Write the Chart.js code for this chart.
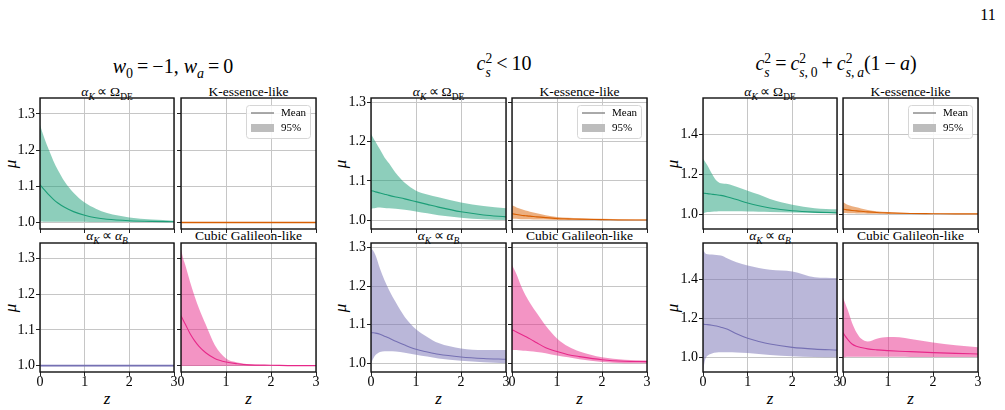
<!DOCTYPE html>
<html>
<head>
<meta charset="utf-8">
<script src="https://cdn.jsdelivr.net/npm/chart.js@4.4.1/dist/chart.umd.min.js"></script>
<style>
body { margin: 0; width: 1005px; height: 410px; background: #fff; position: relative; overflow: hidden; font-family: "Liberation Serif", serif; color: #000; }
canvas { position: absolute; }
.t { position: absolute; transform: translate(-50%, -50%); white-space: nowrap; line-height: 1; }
.gt { font-size: 20px; }
.pt { font-size: 13.5px; }
.ax { font-size: 17px; font-style: italic; }
.rot { transform: translate(-50%, -50%) rotate(-90deg); }
sub, sup { font-size: 0.7em; line-height: 0; }
.ss { display: inline-block; vertical-align: -0.5em; font-size: 0.68em; line-height: 1.05; text-align: left; }
.ss span { display: block; }
</style>
</head>
<body>
<div class="t" style="left:988px;top:15px;font-size:16px">11</div>

<div class="t gt" style="left:173px;top:66px"><i>w</i><sub>0</sub>&#8201;=&#8201;&minus;1, <i>w<sub>a</sub></i>&#8201;=&#8201;0</div>
<div class="t gt" style="left:504px;top:66px"><i>c</i><span class="ss"><span>2</span><span><i>s</i></span></span>&#8201;&lt;&#8201;10</div>
<div class="t gt" style="left:836px;top:66px"><i>c</i><span class="ss"><span>2</span><span><i>s</i></span></span>&#8201;=&#8201;<i>c</i><span class="ss"><span>2</span><span><i>s</i>,&#8201;0</span></span>&#8201;+&#8201;<i>c</i><span class="ss"><span>2</span><span><i>s</i>,&#8201;<i>a</i></span></span>(1&#8201;&minus;&#8201;<i>a</i>)</div>

<div id="labels"></div>

<script>
// redshift grid and ticks
const Z = [0, 0.05, 0.1, 0.2, 0.3, 0.4, 0.55, 0.75, 1, 1.25, 1.5, 2, 2.5, 3];
const X_TICKS = [0, 1, 2, 3];
const Y_TICKS_SMALL = [1.0, 1.1, 1.2, 1.3];
const Y_TICKS_WIDE = [1.0, 1.2, 1.4];

// w0 = -1, wa = 0
const lcdmOdeHi = [1.27, 1.25, 1.232, 1.2, 1.17, 1.145, 1.113, 1.082, 1.055, 1.038, 1.026, 1.014, 1.008, 1.005];
const lcdmOdeMean = [1.105, 1.097, 1.09, 1.076, 1.064, 1.054, 1.042, 1.03, 1.02, 1.013, 1.009, 1.005, 1.003, 1.002];
const lcdmOdeLo = [1.003, 1.003, 1.002, 1.002, 1.002, 1.002, 1.002, 1.002, 1.002, 1.001, 1.001, 1.001, 1.001, 1.001];
const lcdmKessHi = [1.003, 1.003, 1.003, 1.003, 1.003, 1.003, 1.003, 1.003, 1.003, 1.003, 1.003, 1.003, 1.003, 1.003];
const lcdmKessMean = [1, 1, 1, 1, 1, 1, 1, 1, 1, 1, 1, 1, 1, 1];
const lcdmKessLo = [0.997, 0.997, 0.997, 0.997, 0.997, 0.997, 0.997, 0.997, 0.997, 0.997, 0.997, 0.997, 0.997, 0.997];
const lcdmAbHi = [1.003, 1.003, 1.003, 1.003, 1.003, 1.003, 1.003, 1.003, 1.003, 1.003, 1.003, 1.003, 1.003, 1.003];
const lcdmAbMean = [1, 1, 1, 1, 1, 1, 1, 1, 1, 1, 1, 1, 1, 1];
const lcdmAbLo = [0.997, 0.997, 0.997, 0.997, 0.997, 0.997, 0.997, 0.997, 0.997, 0.997, 0.997, 0.997, 0.997, 0.997];
const lcdmCubicHi = [1.325, 1.3, 1.28, 1.235, 1.195, 1.16, 1.115, 1.058, 1.02, 1.009, 1.004, 1.001, 1.0, 1.0];
const lcdmCubicMean = [1.14, 1.127, 1.115, 1.09, 1.07, 1.054, 1.036, 1.02, 1.01, 1.005, 1.002, 1.001, 1.0, 1.0];
const lcdmCubicLo = [0.999, 0.999, 0.999, 0.999, 0.999, 0.999, 0.999, 0.999, 0.999, 0.999, 0.999, 0.999, 0.999, 0.999];

// c_s^2 < 10
const cs10OdeHi = [1.22, 1.21, 1.2, 1.18, 1.16, 1.145, 1.12, 1.095, 1.075, 1.065, 1.058, 1.045, 1.036, 1.03];
const cs10OdeMean = [1.075, 1.074, 1.072, 1.069, 1.066, 1.063, 1.059, 1.054, 1.047, 1.04, 1.033, 1.021, 1.013, 1.008];
const cs10OdeLo = [1.028, 1.03, 1.031, 1.032, 1.031, 1.03, 1.029, 1.026, 1.022, 1.017, 1.012, 1.006, 1.002, 1.0];
const cs10KessHi = [1.037, 1.035, 1.032, 1.028, 1.024, 1.021, 1.017, 1.012, 1.008, 1.006, 1.005, 1.003, 1.002, 1.001];
const cs10KessMean = [1.016, 1.015, 1.014, 1.012, 1.011, 1.01, 1.008, 1.006, 1.004, 1.003, 1.002, 1.001, 1.0, 1.0];
const cs10KessLo = [1.003, 1.003, 1.003, 1.002, 1.002, 1.002, 1.001, 1.001, 1.0, 1.0, 1.0, 1.0, 1.0, 1.0];
const cs10AbHi = [1.298, 1.292, 1.28, 1.245, 1.215, 1.19, 1.158, 1.12, 1.088, 1.068, 1.052, 1.038, 1.034, 1.034];
const cs10AbMean = [1.079, 1.079, 1.078, 1.075, 1.07, 1.065, 1.057, 1.047, 1.036, 1.029, 1.023, 1.016, 1.012, 1.01];
const cs10AbLo = [1.0, 1.012, 1.021, 1.029, 1.031, 1.031, 1.03, 1.027, 1.022, 1.017, 1.012, 1.006, 1.002, 1.0];
const cs10CubicHi = [1.255, 1.243, 1.231, 1.201, 1.176, 1.156, 1.13, 1.097, 1.064, 1.043, 1.03, 1.015, 1.009, 1.007];
const cs10CubicMean = [1.087, 1.084, 1.081, 1.075, 1.069, 1.063, 1.053, 1.04, 1.03, 1.022, 1.017, 1.009, 1.005, 1.004];
const cs10CubicLo = [1.034, 1.034, 1.034, 1.033, 1.032, 1.031, 1.029, 1.026, 1.02, 1.015, 1.01, 1.003, 1.0, 1.0];

// c_s^2 = c_s0^2 + c_sa^2 (1 - a)
const csaOdeHi = [1.278, 1.262, 1.245, 1.203, 1.169, 1.155, 1.152, 1.138, 1.118, 1.098, 1.076, 1.047, 1.03, 1.024];
const csaOdeMean = [1.105, 1.104, 1.103, 1.1, 1.097, 1.094, 1.086, 1.073, 1.056, 1.042, 1.031, 1.017, 1.01, 1.007];
const csaOdeLo = [1.003, 1.008, 1.01, 1.012, 1.013, 1.014, 1.014, 1.014, 1.013, 1.012, 1.011, 1.008, 1.005, 1.002];
const csaKessHi = [1.059, 1.053, 1.047, 1.04, 1.034, 1.028, 1.021, 1.014, 1.01, 1.008, 1.006, 1.003, 1.002, 1.002];
const csaKessMean = [1.025, 1.023, 1.021, 1.018, 1.016, 1.014, 1.011, 1.008, 1.006, 1.004, 1.003, 1.002, 1.001, 1.001];
const csaKessLo = [1.005, 1.005, 1.004, 1.004, 1.003, 1.003, 1.002, 1.002, 1.001, 1.001, 1.0, 1.0, 1.0, 1.0];
const csaAbHi = [1.549, 1.532, 1.527, 1.525, 1.523, 1.52, 1.505, 1.486, 1.469, 1.456, 1.447, 1.439, 1.409, 1.405];
const csaAbMean = [1.169, 1.168, 1.167, 1.164, 1.16, 1.154, 1.143, 1.12, 1.097, 1.081, 1.068, 1.051, 1.042, 1.037];
const csaAbLo = [0.932, 0.99, 1.008, 1.02, 1.025, 1.026, 1.026, 1.025, 1.022, 1.017, 1.012, 1.005, 1.001, 1.0];
const csaCubicHi = [1.304, 1.275, 1.245, 1.177, 1.127, 1.096, 1.081, 1.095, 1.104, 1.102, 1.093, 1.076, 1.062, 1.051];
const csaCubicMean = [1.127, 1.108, 1.093, 1.068, 1.056, 1.05, 1.043, 1.038, 1.034, 1.031, 1.029, 1.024, 1.02, 1.017];
const csaCubicLo = [1.0, 1.002, 1.003, 1.003, 1.003, 1.003, 1.003, 1.003, 1.003, 1.003, 1.002, 1.002, 1.002, 1.002];

const GREEN = [27, 158, 119], ORANGE = [217, 95, 2], PURPLE = [117, 112, 179], PINK = [231, 41, 138];

const TITLE_ODE = '<i>&alpha;<sub>K</sub></i>&#8201;&prop;&#8201;&Omega;<sub>DE</sub>';
const TITLE_AB = '<i>&alpha;<sub>K</sub></i>&#8201;&prop;&#8201;<i>&alpha;<sub>B</sub></i>';
const TITLE_KESS = 'K-essence-like';
const TITLE_CUBIC = 'Cubic Galileon-like';

const cols = [{left: 40, w: 134}, {left: 181, w: 135}, {left: 371, w: 135}, {left: 512, w: 135}, {left: 703, w: 134}, {left: 843, w: 135}];
const rows = [{top: 98, h: 131}, {top: 243, h: 129}];
const yRanges = [[0.982, 1.344], [0.977, 1.312], [0.925, 1.584]];
const yTicks = [Y_TICKS_SMALL, Y_TICKS_SMALL, Y_TICKS_WIDE];

const panels = [
    {g: 0, c: 0, r: 0, hi: lcdmOdeHi, mean: lcdmOdeMean, lo: lcdmOdeLo, col: GREEN, title: TITLE_ODE},
    {g: 0, c: 1, r: 0, hi: lcdmKessHi, mean: lcdmKessMean, lo: lcdmKessLo, col: ORANGE, title: TITLE_KESS, legend: true},
    {g: 0, c: 0, r: 1, hi: lcdmAbHi, mean: lcdmAbMean, lo: lcdmAbLo, col: PURPLE, title: TITLE_AB},
    {g: 0, c: 1, r: 1, hi: lcdmCubicHi, mean: lcdmCubicMean, lo: lcdmCubicLo, col: PINK, title: TITLE_CUBIC},
    {g: 1, c: 0, r: 0, hi: cs10OdeHi, mean: cs10OdeMean, lo: cs10OdeLo, col: GREEN, title: TITLE_ODE},
    {g: 1, c: 1, r: 0, hi: cs10KessHi, mean: cs10KessMean, lo: cs10KessLo, col: ORANGE, title: TITLE_KESS, legend: true},
    {g: 1, c: 0, r: 1, hi: cs10AbHi, mean: cs10AbMean, lo: cs10AbLo, col: PURPLE, title: TITLE_AB},
    {g: 1, c: 1, r: 1, hi: cs10CubicHi, mean: cs10CubicMean, lo: cs10CubicLo, col: PINK, title: TITLE_CUBIC},
    {g: 2, c: 0, r: 0, hi: csaOdeHi, mean: csaOdeMean, lo: csaOdeLo, col: GREEN, title: TITLE_ODE},
    {g: 2, c: 1, r: 0, hi: csaKessHi, mean: csaKessMean, lo: csaKessLo, col: ORANGE, title: TITLE_KESS, legend: true},
    {g: 2, c: 0, r: 1, hi: csaAbHi, mean: csaAbMean, lo: csaAbLo, col: PURPLE, title: TITLE_AB},
    {g: 2, c: 1, r: 1, hi: csaCubicHi, mean: csaCubicMean, lo: csaCubicLo, col: PINK, title: TITLE_CUBIC}
];

const frame = {
    id: 'frame',
    afterDraw(chart) {
        const a = chart.chartArea, ctx = chart.ctx;
        ctx.save();
        ctx.strokeStyle = '#111';
        ctx.lineWidth = 1.4;
        ctx.strokeRect(a.left, a.top, a.right - a.left, a.bottom - a.top);
        ctx.restore();
    }
};

const legendBox = {
    id: 'legendBox',
    afterDraw(chart) {
        const a = chart.chartArea, ctx = chart.ctx;
        const w = 64, h = 33, x = a.right - 6 - w, y = a.top + 7;
        ctx.save();
        ctx.beginPath();
        ctx.roundRect(x + 0.5, y + 0.5, w, h, 3);
        ctx.fillStyle = 'rgba(255,255,255,0.85)';
        ctx.fill();
        ctx.strokeStyle = '#d6d6d6';
        ctx.lineWidth = 1;
        ctx.stroke();
        ctx.strokeStyle = '#555';
        ctx.beginPath();
        ctx.moveTo(x + 5, y + 8);
        ctx.lineTo(x + 28, y + 8);
        ctx.stroke();
        ctx.fillStyle = '#bdbdbd';
        ctx.fillRect(x + 5, y + 19, 23, 8);
        ctx.fillStyle = '#000';
        ctx.font = '11px "Liberation Serif"';
        ctx.textBaseline = 'middle';
        ctx.fillText('Mean', x + 35, y + 8.5);
        ctx.fillText('95%', x + 35, y + 23.5);
        ctx.restore();
    }
};

const labels = document.getElementById('labels');
function addText(html, cls, left, top) {
    const d = document.createElement('div');
    d.className = 't ' + cls;
    d.style.left = left + 'px';
    d.style.top = top + 'px';
    d.innerHTML = html;
    labels.appendChild(d);
}

function makePanel(p) {
    const col = cols[p.g * 2 + p.c], row = rows[p.r];
    const padL = 40, padR = 10, padT = 10, padB = 26;
    const cv = document.createElement('canvas');
    cv.width = col.w + padL + padR;
    cv.height = row.h + padT + padB;
    cv.style.left = (col.left - padL) + 'px';
    cv.style.top = (row.top - padT) + 'px';
    document.body.appendChild(cv);

    const rgb = p.col.join(',');
    const pts = arr => Z.map((z, i) => ({x: z, y: arr[i]}));
    const font = {family: '"Liberation Serif", serif', size: 14};
    const grid = {color: '#c6c6c6', lineWidth: 1, tickColor: '#222', tickLength: 4, tickWidth: 1};

    new Chart(cv, {
        type: 'line',
        data: {
            datasets: [
                {data: pts(p.lo), borderColor: 'rgba(0,0,0,0)', borderWidth: 0, pointRadius: 0, fill: false},
                {data: pts(p.hi), borderColor: 'rgba(0,0,0,0)', borderWidth: 0, pointRadius: 0, fill: '-1', backgroundColor: `rgba(${rgb},0.5)`},
                {data: pts(p.mean), borderColor: `rgb(${rgb})`, borderWidth: 1.1, pointRadius: 0, fill: false}
            ]
        },
        options: {
            responsive: false,
            animation: false,
            layout: {padding: {top: padT, right: padR, left: 0, bottom: 0}},
            elements: {line: {cubicInterpolationMode: 'monotone'}},
            plugins: {legend: {display: false}, tooltip: {enabled: false}},
            scales: {
                x: {
                    type: 'linear', min: 0, max: 3,
                    afterBuildTicks: s => { s.ticks = X_TICKS.map(v => ({value: v})); },
                    afterFit: s => { s.height = padB; },
                    grid: grid,
                    border: {display: false},
                    ticks: {display: p.r === 1, font: font, color: '#000', padding: -2, maxRotation: 0, callback: v => String(v)}
                },
                y: {
                    type: 'linear', min: yRanges[p.g][0], max: yRanges[p.g][1],
                    afterBuildTicks: s => { s.ticks = yTicks[p.g].map(v => ({value: v})); },
                    afterFit: s => { s.width = padL; },
                    grid: grid,
                    border: {display: false},
                    ticks: {display: p.c === 0, font: font, color: '#000', padding: 1, callback: v => v.toFixed(1)}
                }
            }
        },
        plugins: p.legend ? [frame, legendBox] : [frame]
    });

    const cx = col.left + col.w / 2;
    addText(p.title, 'pt', cx, p.r === 0 ? 92 : 236);
    if (p.r === 1) addText('z', 'ax', cx, 398);
    if (p.c === 0) addText('&mu;', 'ax rot', [10, 340, 672][p.g], row.top + row.h / 2);
}

panels.forEach(makePanel);
</script>
</body>
</html>
